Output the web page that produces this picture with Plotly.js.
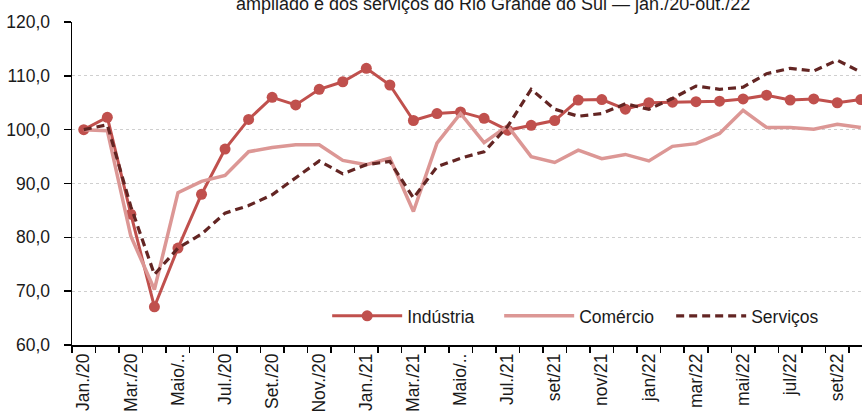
<!DOCTYPE html>
<html>
<head>
<meta charset="utf-8">
<script src="https://cdn.plot.ly/plotly-3.0.1.min.js"></script>
<style>
html,body{margin:0;padding:0;background:#fff;overflow:hidden;}
#chart{width:862px;height:415px;}
</style>
</head>
<body>
<div id="chart"></div>
<script>
const months = ["jan/20","fev/20","mar/20","abr/20","mai/20","jun/20","jul/20","ago/20","set/20","out/20","nov/20","dez/20",
"jan/21","fev/21","mar/21","abr/21","mai/21","jun/21","jul/21","ago/21","set/21","out/21","nov/21","dez/21",
"jan/22","fev/22","mar/22","abr/22","mai/22","jun/22","jul/22","ago/22","set/22","out/22"];
const tickLabels = ["Jan./20","Mar./20","Maio/..","Jul./20","Set./20","Nov./20","Jan./21","Mar./21","Maio/..","Jul./21","set/21","nov/21","jan/22","mar/22","mai/22","jul/22","set/22"];
const industria = [100.0,102.3,84.3,67.1,78.0,88.0,96.4,101.9,106.0,104.6,107.5,108.9,
111.4,108.3,101.7,103.0,103.3,102.1,99.9,100.8,101.7,105.5,105.6,103.8,
105.0,105.1,105.2,105.3,105.7,106.4,105.5,105.7,105.0,105.6];
const comercio = [100.0,99.8,80.2,70.3,88.3,90.4,91.5,95.9,96.7,97.2,97.2,94.3,
93.5,94.7,84.8,97.5,103.0,97.6,100.7,95.0,93.9,96.2,94.6,95.4,
94.2,96.9,97.4,99.3,103.6,100.4,100.4,100.1,101.0,100.4];
const servicos = [100.0,100.9,85.7,73.1,78.0,80.6,84.5,85.9,87.9,91.0,94.2,91.8,
93.5,94.1,87.3,93.1,94.7,95.9,100.6,107.5,103.8,102.5,103.0,104.8,
103.8,105.8,108.1,107.5,107.9,110.4,111.4,110.9,112.9,110.7];

const idx = months.map((m,i)=>i);
const tickIdx = tickLabels.map((t,i)=>i*2);
const boundaries = months.map((m,i)=>i-0.5).concat([months.length-0.5]);

const FONT = "Liberation Sans, Arial, sans-serif";
const FS = 17.5;

const traces = [
  {x: idx, y: industria, name: "Indústria", type: "scatter", mode: "lines+markers",
   line: {color: "#c0504d", width: 3}, marker: {color: "#c0504d", size: 11}, cliponaxis: false},
  {x: idx, y: comercio, name: "Comércio", type: "scatter", mode: "lines",
   line: {color: "#dc9795", width: 3.5}},
  {x: idx, y: servicos, name: "Serviços", type: "scatter", mode: "lines",
   line: {color: "#632523", width: 3.2, dash: "8px,5px"}}
];

const layout = {
  width: 862, height: 415,
  margin: {l: 72, r: 0, t: 22, b: 70, autoexpand: false},
  paper_bgcolor: "#fff", plot_bgcolor: "#fff",
  separators: ",.",
  font: {family: FONT, size: FS, color: "#1a1a1a"},
  showlegend: true,
  title: {text: "ampliado e dos serviços do Rio Grande do Sul — jan./20-out./22",
          x: 0.572, xanchor: "center", xref: "container", y: 0.992, yanchor: "middle", yref: "container",
          font: {family: FONT, size: 18, color: "#1a1a1a"}},
  xaxis: {type: "linear", range: [-0.5, 33.05], tickmode: "array", tickvals: tickIdx, ticktext: tickLabels,
          tickangle: -90, ticks: "", showgrid: false, zeroline: false,
          showline: true, linecolor: "#000", linewidth: 1.5,
          minor: {tickmode: "array", tickvals: boundaries, ticks: "outside", ticklen: 6, tickwidth: 1.5, tickcolor: "#000", showgrid: false},
          tickfont: {family: FONT, size: FS, color: "#1a1a1a"}, fixedrange: true},
  yaxis: {range: [60, 120], dtick: 10, tick0: 60, tickformat: ".1f", ticks: "outside", ticklen: 7, tickwidth: 1.5, tickcolor: "#000",
          showline: true, linecolor: "#000", linewidth: 1.5, zeroline: false,
          showgrid: true, gridcolor: "#cfcfcf", gridwidth: 1, griddash: "dot",
          ticklabelstandoff: 10,
          tickfont: {family: FONT, size: FS, color: "#1a1a1a"}, fixedrange: true},
  legend: {orientation: "h", x: 0.323, xanchor: "left", y: 0.09, yanchor: "middle",
           bgcolor: "rgba(255,255,255,0)", itemwidth: 70, entrywidth: 87, entrywidthmode: "pixels", tracegroupgap: 0,
           font: {family: FONT, size: FS, color: "#1a1a1a"}}
};

Plotly.newPlot("chart", traces, layout, {displayModeBar: false, staticPlot: true});
</script>
</body>
</html>
